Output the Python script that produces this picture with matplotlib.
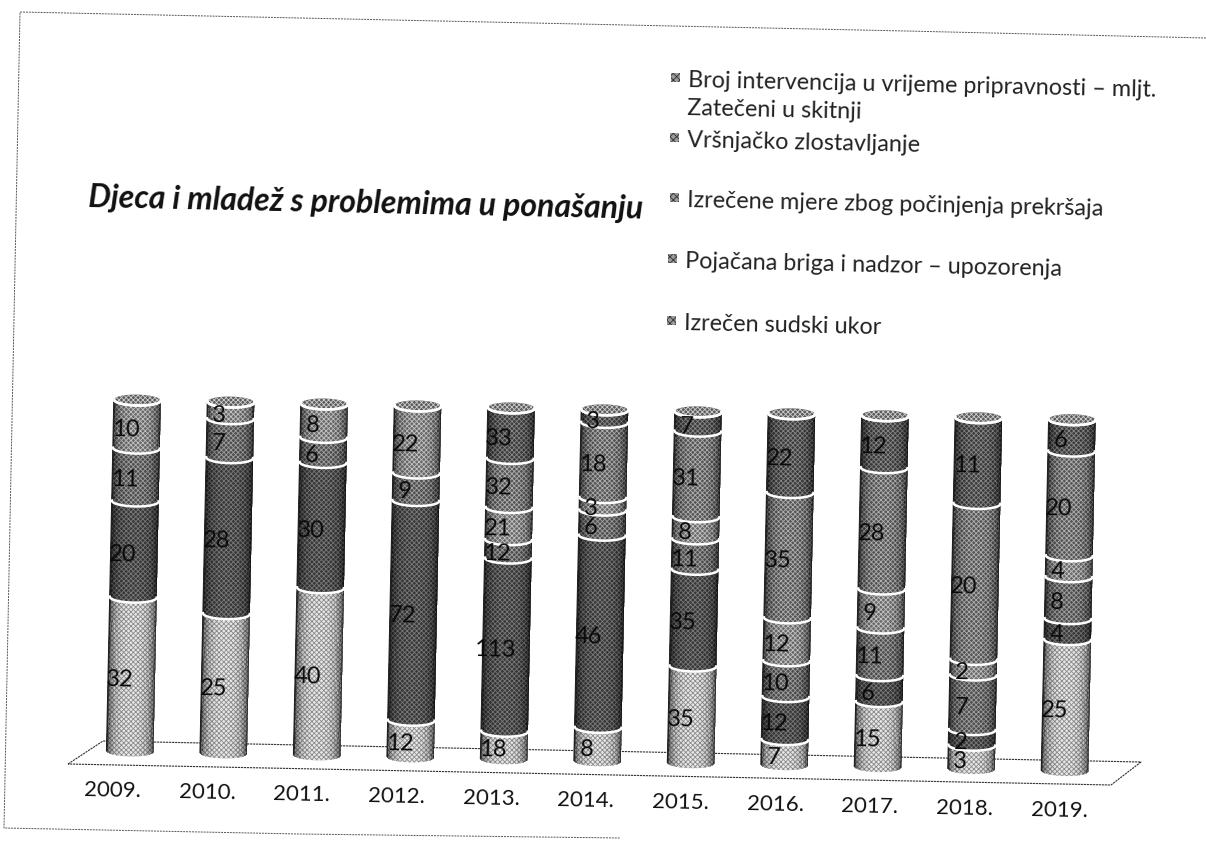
# -*- coding: utf-8 -*-
import numpy as np
import matplotlib
matplotlib.use('Agg')
import matplotlib.pyplot as plt
from matplotlib.patches import Rectangle
from matplotlib.transforms import Affine2D

W, H = 1206, 846
plt.rcParams['font.family'] = ['Lato', 'DejaVu Sans']
plt.rcParams['hatch.linewidth'] = 0.6

#Data, bottom to top of each column
years = ['2009.', '2010.', '2011.', '2012.', '2013.', '2014.', '2015.', '2016.', '2017.', '2018.', '2019.']
sudski_ukor = [32, 25, 40, 12, 18, 8, 35, 7, 15, 3, 25]
briga_nadzor = [20, 28, 30, 72, 113, 46, 35, 12, 6, 2, 4]
prekrsaji = [11, 7, 6, 9, 12, 6, 11, 10, 11, 7, 8]
vrsnjacko = [10, 3, 8, 22, 21, 3, 8, 12, 9, 2, 4]
skitnja = [0, 0, 0, 0, 32, 18, 31, 35, 28, 20, 20]
intervencije = [0, 0, 0, 0, 33, 3, 7, 22, 12, 11, 6]
series = [sudski_ukor, briga_nadzor, prekrsaji, vrsnjacko, skitnja, intervencije]

legend_labels = ['Broj intervencija u vrijeme pripravnosti – mljt.',
                 'Zatečeni u skitnji',
                 'Vršnjačko zlostavljanje',
                 'Izrečene mjere zbog počinjenja prekršaja',
                 'Pojačana briga i nadzor – upozorenja',
                 'Izrečen sudski ukor']
title = 'Djeca i mladež s problemima u ponašanju'

#Styles
face = ['#e8e8e8', '#383838', '#4e4e4e', '#6a6a6a', '#565656', '#3c3c3c']
grain = ['#8c8c8c', '#7a7a7a', '#a0a0a0', '#c4c4c4', '#b0b0b0', '#888888']
bar_w = 0.5
cap_h = 3.1
tilt = -1.2

fig = plt.figure(figsize=(W/100, H/100), dpi=100, facecolor='white')

#Page layer in pixel coordinates: frame, floor, title and legend
page = fig.add_axes([0, 0, 1, 1], zorder=0)
page.set_xlim(0, W)
page.set_ylim(H, 0)
page.axis('off')

frame = dict(color='#555555', lw=0.7, ls=(0, (2, 1)))
page.plot([1206, 906, 300, 20, 4, 300, 620], [38, 31, 18, 12, 828, 834, 838], **frame)

page.plot([68, 103, 1141, 1111, 68], [764, 741, 762, 785, 764], color='#333333', lw=0.8,
          ls=(0, (2, 0.7)))

page.text(88, 207, title, fontsize=23, fontweight='bold', fontstyle='italic',
          rotation=-1.2, rotation_mode='anchor', color='#111111')

legend_x = [688, 687, 687, 687, 685, 684]
legend_y = [87, 115, 147, 207, 268, 330]
marker_x = [671, None, 670, 670, 668, 667]
marker_y = [73, None, 133, 193, 254, 316]
for i, lab in enumerate(legend_labels):
    page.text(legend_x[i], legend_y[i], lab, fontsize=16.8, rotation=-1.2,
              rotation_mode='anchor', color='#222222')
    if marker_x[i] is not None:
        page.add_patch(Rectangle((marker_x[i], marker_y[i]), 9, 9, facecolor='#9a9a9a',
                                 edgecolor='#333333', hatch='xxxxx', lw=0))

#Column layer: x is the year index, y is the share in percent
ax = fig.add_axes([83.25/W, 95/H, 1028.5/W, 351/H], zorder=1)
ax.set_xlim(-0.5, 10.5)
ax.set_ylim(0, 100)
ax.axis('off')
ax.patch.set_alpha(0)
rot = ax.transData + Affine2D().rotate_deg_around(130, 95, tilt)

t = np.linspace(np.pi, 2*np.pi, 40)
arc_x = np.cos(t)*bar_w/2
arc_y = np.sin(t)*cap_h/2

values = np.array(series, dtype=float)
shares = values/values.sum(axis=0)*100
bottoms = np.vstack([np.zeros(len(years)), np.cumsum(shares, axis=0)])

for i, year in enumerate(years):
    for s in range(len(series)):
        if values[s, i] == 0:
            continue
        y0, y1 = bottoms[s, i], bottoms[s+1, i]
        xs = np.concatenate([i+arc_x, i-arc_x])
        ys = np.concatenate([y0+arc_y, y1+arc_y[::-1]])
        ax.fill(xs, ys, facecolor=face[s], edgecolor=grain[s], hatch='xxxxxxx', lw=0,
                transform=rot, clip_on=False, zorder=2)
        ax.plot(i+arc_x, y1+arc_y, color='white', lw=1.8, transform=rot, clip_on=False, zorder=3)
        ax.text(i-0.12, (y0+y1)/2-cap_h/2, '%d' % values[s, i], fontsize=17, ha='center', va='center',
                rotation=tilt, rotation_mode='anchor', color='#0a0a0a', transform=rot, zorder=4)
    #Round shading, darker towards the sides
    for k in range(len(arc_x)-1):
        mid = (arc_x[k]+arc_x[k+1])/2
        shade = 0.3*(abs(mid)/(bar_w/2))**3
        ax.fill([i+arc_x[k], i+arc_x[k+1], i+arc_x[k+1], i+arc_x[k]],
                [arc_y[k], arc_y[k+1], 100+arc_y[k+1], 100+arc_y[k]],
                color='black', alpha=shade, lw=0, antialiased=False, transform=rot,
                clip_on=False, zorder=2.5)
    ax.plot([i-bar_w/2, i-bar_w/2], [0, 100], color='#222222', lw=1.0, transform=rot,
            clip_on=False, zorder=2.6)
    #Top of the cylinder
    ca = np.linspace(0, 2*np.pi, 60)
    ax.fill(i+np.cos(ca)*bar_w/2, 100+np.sin(ca)*cap_h/2, facecolor='#5a5a5a', edgecolor='#cccccc',
            hatch='xxxxxxx', lw=0, transform=rot, clip_on=False, zorder=2.7)
    ax.plot(i+arc_x, 100+arc_y, color='white', lw=1.8, transform=rot, clip_on=False, zorder=3)
    ax.text(i-0.18+0.013*i, -11.5, year, fontsize=16, ha='center', va='center',
            rotation=tilt, rotation_mode='anchor', color='#111111', transform=rot, zorder=4)

fig.savefig('out.png', dpi=100, facecolor='white')
